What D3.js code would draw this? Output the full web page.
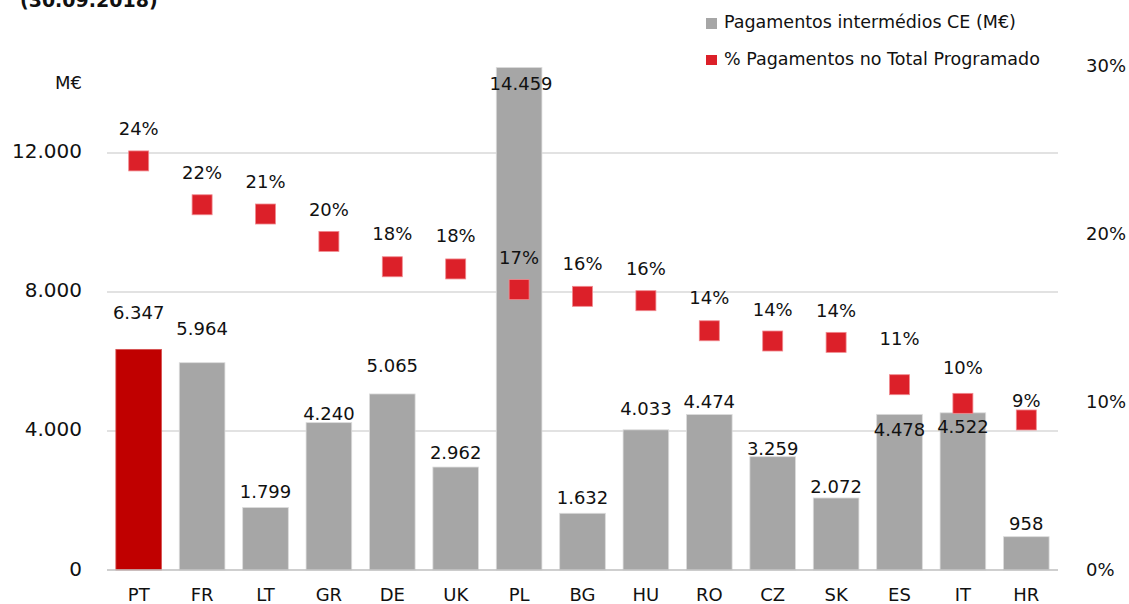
<!DOCTYPE html>
<html>
<head>
<meta charset="utf-8">
<script src="https://cdn.jsdelivr.net/npm/d3@7"></script>
<style>
  body { margin: 0; background: #fff; }
  svg { display: block; font-family: "DejaVu Sans", sans-serif; }
</style>
</head>
<body>
<svg id="chart" width="1129" height="604"></svg>
<script>
// data (30.09.2018)
var countries = ['PT', 'FR', 'LT', 'GR', 'DE', 'UK', 'PL', 'BG', 'HU', 'RO', 'CZ', 'SK', 'ES', 'IT', 'HR'];
var payments = [6347, 5964, 1799, 4240, 5065, 2962, 14459, 1632, 4033, 4474, 3259, 2072, 4478, 4522, 958]; // M€
var shareProgrammed = [0.2435, 0.2174, 0.2119, 0.1956, 0.1805, 0.1792, 0.1669, 0.1629, 0.1603, 0.1424, 0.1363, 0.1355, 0.1103, 0.0992, 0.0893];
var leftTicks = [0, 4000, 8000, 12000];
var rightTicks = [0, 0.1, 0.2, 0.3];
var legendLabels = ['Pagamentos intermédios CE (M€)', '% Pagamentos no Total Programado'];
var titleText = '(30.09.2018)';
var unitText = 'M€';

// labels were moved by hand in the original, keep the nudges (px, from bar top / marker centre)
var valueLabelDy = [-37, -34, -16, -9, -28, -15, 16, -16, -21, -13, -8, -11, 15, 14, -13];
var pctLabelDy = [-32, -32, -33, -32, -33, -33, -32, -33, -32, -33, -32, -32, -46, -36, -19];

//============================================================
// Layout
//------------------------------------------------------------

var plot = {left: 107, right: 1058, top: 66, bottom: 570};

var grey = '#a6a6a6',
    darkRed = '#c00000',
    markerRed = '#dc2029',
    gridColor = '#d9d9d9',
    textColor = '#111';

var pt = d3.formatLocale({decimal: ',', thousands: '.', grouping: [3], currency: ['', ' €']});
var fmtNum = pt.format(',');
var fmtPct = d3.format('.0%');

var svg = d3.select('#chart');

var x = d3.scaleBand()
  .domain(countries)
  .range([plot.left, plot.right])
  .paddingInner(0.28)
  .paddingOuter(0.14);

var yLeft = d3.scaleLinear().domain([0, 14500]).range([plot.bottom, plot.top]);
var yRight = d3.scaleLinear().domain([0, 0.3]).range([plot.bottom, plot.top]);

//------------------------------------------------------------
// Title (cut at the top edge) and unit

svg.append('text')
  .attr('x', 20).attr('y', 7)
  .attr('font-size', 19).attr('font-weight', 'bold')
  .attr('fill', textColor)
  .text(titleText);

svg.append('text')
  .attr('x', 82).attr('y', 89)
  .attr('text-anchor', 'end')
  .attr('font-size', 18)
  .attr('fill', textColor)
  .text(unitText);

//------------------------------------------------------------
// Gridlines

svg.append('g').attr('class', 'grid')
  .selectAll('line')
  .data(leftTicks.filter(function(d) { return d > 0; }))
  .enter().append('line')
    .attr('x1', plot.left).attr('x2', plot.right)
    .attr('y1', function(d) { return yLeft(d); })
    .attr('y2', function(d) { return yLeft(d); })
    .attr('stroke', gridColor)
    .attr('stroke-width', 1.5);

//------------------------------------------------------------
// Bars

var data = countries.map(function(c, i) {
  return {country: c, value: payments[i], pct: shareProgrammed[i], i: i};
});

svg.append('g').attr('class', 'bars')
  .selectAll('rect')
  .data(data)
  .enter().append('rect')
    .attr('x', function(d) { return x(d.country); })
    .attr('width', x.bandwidth())
    .attr('y', function(d) { return yLeft(d.value); })
    .attr('height', function(d) { return yLeft(0) - yLeft(d.value); })
    .attr('fill', function(d) { return d.country === 'PT' ? darkRed : grey; })
    .attr('stroke', function(d) { return d.country === 'PT' ? '#d65050' : '#dcdcdc'; })
    .attr('stroke-width', 0.8);

// baseline
svg.append('line')
  .attr('x1', plot.left).attr('x2', plot.right)
  .attr('y1', yLeft(0)).attr('y2', yLeft(0))
  .attr('stroke', '#bfbfbf')
  .attr('stroke-width', 1.5);

//------------------------------------------------------------
// Markers

var size = 20;
svg.append('g').attr('class', 'markers')
  .selectAll('rect')
  .data(data)
  .enter().append('rect')
    .attr('x', function(d) { return x(d.country) + x.bandwidth() / 2 - size / 2; })
    .attr('y', function(d) { return yRight(d.pct) - size / 2; })
    .attr('width', size)
    .attr('height', size)
    .attr('fill', markerRed)
    .attr('stroke', '#f08a8f')
    .attr('stroke-width', 0.8);

//------------------------------------------------------------
// Data labels

svg.append('g').attr('class', 'value-labels')
  .selectAll('text')
  .data(data)
  .enter().append('text')
    .attr('x', function(d) { return x(d.country) + x.bandwidth() / 2 + (d.value > 10000 ? 2 : 0); })
    .attr('y', function(d) { return yLeft(d.value) + valueLabelDy[d.i] + 6.5; })
    .attr('text-anchor', 'middle')
    .attr('font-size', 18)
    .attr('fill', textColor)
    .text(function(d) { return fmtNum(d.value); });

svg.append('g').attr('class', 'pct-labels')
  .selectAll('text')
  .data(data)
  .enter().append('text')
    .attr('x', function(d) { return x(d.country) + x.bandwidth() / 2; })
    .attr('y', function(d) { return yRight(d.pct) + pctLabelDy[d.i] + 6.5; })
    .attr('text-anchor', 'middle')
    .attr('font-size', 18)
    .attr('fill', textColor)
    .text(function(d) { return fmtPct(d.pct); });

//------------------------------------------------------------
// Axes

function clean(g, fontSize) {
  g.select('.domain').remove();
  g.selectAll('.tick line').remove();
  g.selectAll('text')
    .attr('font-size', fontSize)
    .attr('font-family', '"DejaVu Sans", sans-serif')
    .attr('fill', textColor);
}

svg.append('g')
  .attr('transform', 'translate(' + plot.left + ',0)')
  .call(d3.axisLeft(yLeft).tickValues(leftTicks).tickSize(0).tickPadding(25).tickFormat(fmtNum))
  .call(clean, 20)
  .selectAll('text').attr('dy', '0.25em');

svg.append('g')
  .attr('transform', 'translate(' + plot.right + ',0)')
  .call(d3.axisRight(yRight).tickValues(rightTicks).tickSize(0).tickPadding(28).tickFormat(fmtPct))
  .call(clean, 18)
  .selectAll('text').attr('dy', '0.33em');

svg.append('g')
  .attr('transform', 'translate(0,' + plot.bottom + ')')
  .call(d3.axisBottom(x).tickSize(0).tickPadding(18))
  .call(clean, 18);

//------------------------------------------------------------
// Legend

var legend = svg.append('g').attr('class', 'legend')
  .selectAll('g')
  .data(legendLabels)
  .enter().append('g')
    .attr('transform', function(d, i) { return 'translate(706,' + (i === 0 ? 18 : 55) + ')'; });

legend.append('rect')
  .attr('width', 11).attr('height', function(d, i) { return i === 0 ? 11 : 10; })
  .attr('fill', function(d, i) { return i === 0 ? grey : markerRed; });

legend.append('text')
  .attr('x', 18).attr('y', 10)
  .attr('font-size', 17.5)
  .attr('fill', textColor)
  .text(function(d) { return d; });
</script>
</body>
</html>
